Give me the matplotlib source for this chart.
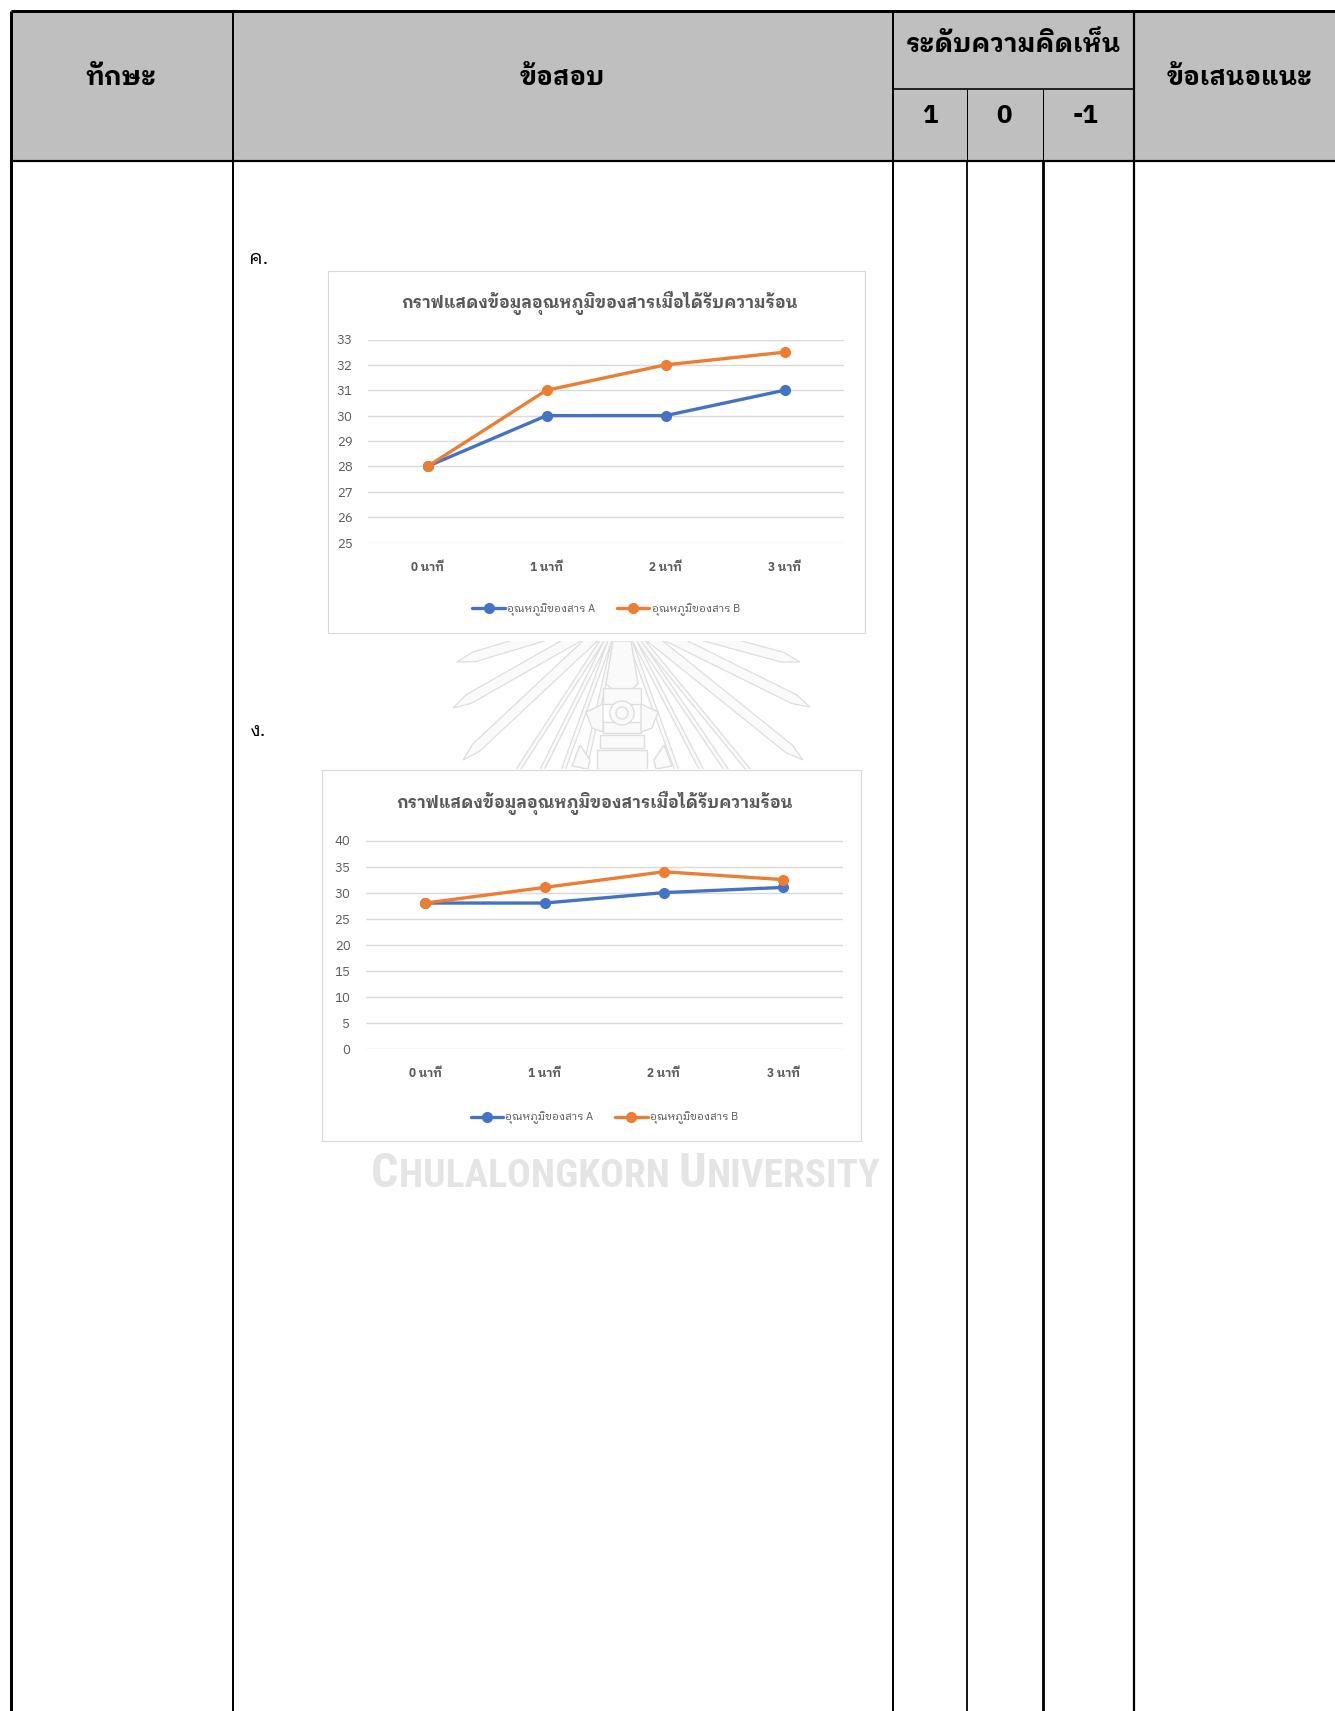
import numpy as np
import matplotlib
matplotlib.use("Agg")
import matplotlib.pyplot as plt
from matplotlib.patches import Rectangle, Polygon, Circle
import logging
logging.getLogger("matplotlib.font_manager").setLevel(logging.ERROR)

THAI = ["IBM Plex Sans Thai Looped", "Sarabun", "Noto Sans Thai Looped", "Noto Sans Thai", "DejaVu Sans"]
COND = ["Roboto Condensed", "Liberation Sans Narrow", "DejaVu Sans"]
plt.rcParams["font.family"] = THAI

# ---- data ----
categories = ["0 นาที", "1 นาที", "2 นาที", "3 นาที"]
series_names = ["อุณหภูมิของสาร A", "อุณหภูมิของสาร B"]
chart_title = "กราฟแสดงข้อมูลอุณหภูมิของสารเมื่อได้รับความร้อน"

# option ค.
temp_a_c = [28, 30, 30, 31]
temp_b_c = [28, 31, 32, 32.5]
yticks_c = [25, 26, 27, 28, 29, 30, 31, 32, 33]

# option ง.
temp_a_d = [28, 28, 30, 31]
temp_b_d = [28, 31, 34, 32.5]
yticks_d = [0, 5, 10, 15, 20, 25, 30, 35, 40]

header_cols = ["ทักษะ", "ข้อสอบ", "ระดับความคิดเห็น", "ข้อเสนอแนะ"]
level_labels = ["1", "0", "-1"]
option_labels = ["ค.", "ง."]
watermark_words = ["CHULALONGKORN", "UNIVERSITY"]

BLUE = "#4472C4"
ORANGE = "#ED7D31"
GRID = "#D9D9D9"
TXT = "#595959"

W, H = 1335, 1711
fig = plt.figure(figsize=(W / 100, H / 100), dpi=100)
renderer = fig.canvas.get_renderer()

# page canvas in pixel units (y downwards)
bg = fig.add_axes([0, 0, 1, 1])
bg.set_xlim(0, W)
bg.set_ylim(H, 0)
bg.axis("off")


def px(v):
    return v * 0.72


# ---- table ----
bg.add_patch(Rectangle((11, 11), W - 11, 149.5, facecolor="#BFBFBF", edgecolor="none", zorder=1))
lines = [
    ((11, W), (11, 11), 3.0),
    ((11, 11), (11, H), 3.0),
    ((11, W), (160.5, 160.5), 2.2),
    ((893, 1134), (88.5, 88.5), 1.6),
    ((232.5, 232.5), (11, H), 2.0),
    ((893, 893), (11, H), 2.0),
    ((1134, 1134), (11, H), 2.2),
    ((967, 967), (88.5, 160.5), 1.0),
    ((1042.5, 1042.5), (88.5, 160.5), 1.0),
    ((967, 967), (160.5, H), 1.8),
    ((1042.5, 1042.5), (160.5, H), 2.8),
]
for xs, ys, lw in lines:
    bg.plot(xs, ys, color="black", lw=px(lw), solid_capstyle="butt", zorder=3)

hdr = dict(ha="center", va="center", fontsize=18.5, fontweight="bold", color="black", zorder=4)
bg.text(121, 78, header_cols[0], **hdr)
bg.text(562, 78, header_cols[1], **hdr)
bg.text(1013, 44, header_cols[2], **hdr)
bg.text(1240, 78, header_cols[3], **hdr)
for xc, lab in zip([930, 1004, 1086], level_labels):
    bg.text(xc, 116, lab, **hdr)

bg.text(249, 259, option_labels[0], ha="left", va="center", fontsize=14, color="black")
bg.text(249, 731, option_labels[1], ha="left", va="center", fontsize=14, color="black")

# ---- faint emblem behind the page ----
clip = Rectangle((440, 641), 400, 128, transform=bg.transData, facecolor="none", edgecolor="none")
bg.add_patch(clip)
cx, cy = 620.0, 613.0
EMB_FILL, EMB_EDGE = "#FAFAFA", "#DEDEDE"


def ray(tip, width, point_len=18):
    t = np.array(tip, float)
    c = np.array([cx, cy])
    u = (t - c) / np.linalg.norm(t - c)
    n = np.array([-u[1], u[0]])
    pts = [c + n * width / 2, t - u * point_len + n * width / 2, t,
           t - u * point_len - n * width / 2, c - n * width / 2]
    p = Polygon(pts, closed=True, facecolor=EMB_FILL, edgecolor=EMB_EDGE, lw=0.9, zorder=1.5)
    bg.add_patch(p)
    p.set_clip_path(clip)


for tip in [(457, 662), (453, 708), (463, 760), (800, 662), (810, 707), (803, 760)]:
    ray(tip, 10)
for tip in [(505, 790), (532, 790), (556, 790), (580, 790),
            (765, 790), (740, 790), (712, 790), (684, 790)]:
    ray(tip, 4, point_len=8)

crown = [
    [(613, 641), (631, 641), (638, 684), (622, 698), (606, 684)],
    [(603, 688), (641, 688), (641, 704), (603, 704)],
    [(603, 722), (641, 722), (641, 733), (603, 733)],
    [(600, 735), (644, 735), (644, 748), (600, 748)],
    [(597, 750), (647, 750), (647, 769), (597, 769)],
    [(586, 712), (603, 704), (603, 732), (592, 728)],
    [(658, 712), (641, 704), (641, 732), (652, 728)],
    [(572, 766), (580, 745), (590, 760), (588, 769)],
    [(672, 766), (664, 745), (654, 760), (656, 769)],
]
for pts in crown:
    p = Polygon(pts, closed=True, facecolor=EMB_FILL, edgecolor=EMB_EDGE, lw=1.0, zorder=1.6)
    bg.add_patch(p)
    p.set_clip_path(clip)
for r in (12, 6):
    c = Circle((622, 713), r, facecolor=EMB_FILL, edgecolor=EMB_EDGE, lw=1.0, zorder=1.7)
    bg.add_patch(c)
    c.set_clip_path(clip)


# university name in small capitals, laid out piece by piece
def small_caps(words, x_left, x_right, y_base, big, small, color):
    pieces = []
    for i, w in enumerate(words):
        pieces.append((w[0], big))
        pieces.append((w[1:] + (" " if i < len(words) - 1 else ""), small))
    widths = []
    for s, fs in pieces:
        t = fig.text(0, 0, s, fontsize=fs, fontweight="bold", family=COND)
        widths.append(t.get_window_extent(renderer).width)
        t.remove()
    scale = (x_right - x_left) / sum(widths)
    x = x_left
    for (s, fs), wd in zip(pieces, widths):
        bg.text(x, y_base, s, fontsize=fs * scale, fontweight="bold", family=COND,
                color=color, ha="left", va="baseline", zorder=1)
        x += wd * scale


small_caps(watermark_words, 371, 880, 1187, 30, 24.5, "#E4E4E4")


# ---- charts ----
def chart(box, plot, a, b, yticks, title_y):
    bx0, by0, bx1, by1 = box
    bg.add_patch(Rectangle((bx0, by0), bx1 - bx0, by1 - by0, facecolor="white",
                           edgecolor=GRID, lw=px(1.2), zorder=2))
    x0, ytop, x1, ybot = plot
    ax = fig.add_axes([x0 / W, 1 - ybot / H, (x1 - x0) / W, (ybot - ytop) / H])
    ax.patch.set_alpha(0)
    xs = np.arange(len(categories))
    ax.plot(xs, a, color=BLUE, lw=2.4, marker="o", ms=7, label=series_names[0],
            solid_capstyle="round", zorder=3)
    ax.plot(xs, b, color=ORANGE, lw=2.4, marker="o", ms=7, label=series_names[1],
            solid_capstyle="round", zorder=3)
    ax.set_xlim(-0.5, len(categories) - 0.5)
    ax.set_ylim(yticks[0], yticks[-1])
    ax.set_yticks(yticks)
    ax.set_xticks(xs)
    ax.set_xticklabels(categories, fontsize=8.5, fontweight="bold", color=TXT)
    ax.tick_params(axis="y", labelsize=9.5, labelcolor=TXT, length=0, pad=11)
    ax.tick_params(axis="x", length=0, pad=13)
    for s in ax.spines.values():
        s.set_visible(False)
    ax.yaxis.grid(True, color=GRID, lw=1.0)
    ax.set_axisbelow(True)
    for ln in ax.lines:
        ln.set_clip_on(False)
    fig.text(((bx0 + bx1) / 2 + 3) / W, 1 - (title_y + 2) / H, chart_title, ha="center", va="center",
             fontsize=12, fontweight="bold", color=TXT)
    ax.legend(loc="center", bbox_to_anchor=(0.5, -0.33), ncol=2, frameon=False,
              fontsize=7.8, handlelength=3.0, columnspacing=2.0, handletextpad=0.2,
              labelcolor=TXT)
    return ax


chart((327.5, 270.7, 864.5, 633.1), (368, 339.5, 844, 542.5), temp_a_c, temp_b_c, yticks_c, 301)
chart((322, 769.6, 861, 1140.7), (365.7, 840.5, 842.7, 1049), temp_a_d, temp_b_d, yticks_d, 801)

fig.savefig("out.png", dpi=100)
